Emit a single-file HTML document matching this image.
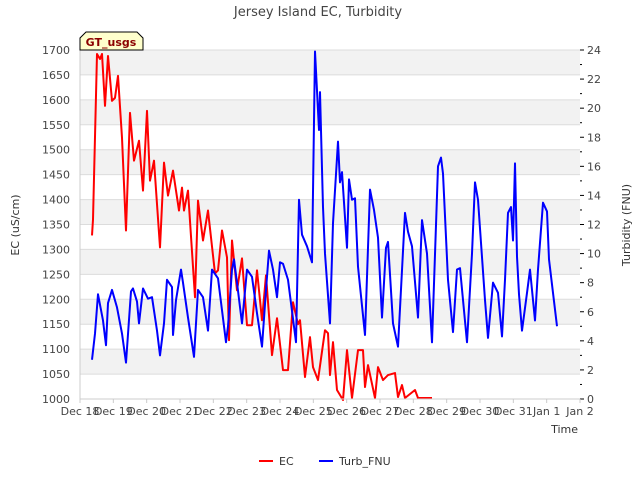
<!DOCTYPE html>
<html><head><meta charset="utf-8"><style>
body{margin:0;background:#fff;font-family:"Liberation Sans",sans-serif}
svg text{font-family:"DejaVu Sans","Liberation Sans",sans-serif}
</style></head><body>
<svg id="c" width="640" height="480" xmlns="http://www.w3.org/2000/svg">
<text x="318" y="16" text-anchor="middle" font-size="13" fill="#444">Jersey Island EC, Turbidity</text>
<g id="bands"></g><g id="grid"></g>
<g id="series"></g>
<g id="axes"></g>
<text x="19" y="225" transform="rotate(-90 19 225)" text-anchor="middle" font-size="11" fill="#333">EC (uS/cm)</text>
<text x="630" y="225" transform="rotate(-90 630 225)" text-anchor="middle" font-size="11" fill="#333">Turbidity (FNU)</text>
<text x="578" y="433" text-anchor="end" font-size="11" fill="#333">Time</text>
<g>
<path d="M80,50 L80,38 L86,32 L137,32 L143,38 L143,50 Z" fill="#ffffcc" stroke="#000" stroke-width="1"/>
<text x="111" y="46" text-anchor="middle" font-size="11" font-weight="bold" fill="#8b0000">GT_usgs</text>
</g>
<g>
<g><line x1="259" y1="461" x2="273" y2="461" stroke="#f00" stroke-width="2"/><text x="279" y="465" font-size="11" fill="#333">EC</text></g>
<g><line x1="319" y1="461" x2="333" y2="461" stroke="#00f" stroke-width="2"/><text x="339" y="465" font-size="11" fill="#333">Turb_FNU</text></g>
</g>
</svg>
<script>
const xLabels=["Dec 18","Dec 19","Dec 20","Dec 21","Dec 22","Dec 23","Dec 24","Dec 25","Dec 26","Dec 27","Dec 28","Dec 29","Dec 30","Dec 31","Jan 1","Jan 2"];
const ecTicks=[1000,1050,1100,1150,1200,1250,1300,1350,1400,1450,1500,1550,1600,1650,1700];
const turbTicks=[0,2,4,6,8,10,12,14,16,18,20,22,24];
const ecT=[0.36,0.39,0.51,0.60,0.66,0.75,0.84,0.96,1.05,1.14,1.26,1.38,1.50,1.62,1.77,1.89,2.01,2.10,2.22,2.40,2.52,2.64,2.79,2.97,3.06,3.12,3.24,3.45,3.54,3.69,3.84,4.05,4.14,4.26,4.41,4.47,4.56,4.71,4.86,5.01,5.16,5.31,5.46,5.58,5.76,5.91,6.09,6.24,6.39,6.54,6.60,6.75,6.90,6.99,7.14,7.35,7.44,7.50,7.59,7.71,7.89,8.01,8.16,8.34,8.49,8.55,8.64,8.85,8.94,9.09,9.24,9.45,9.54,9.66,9.75,10.05,10.14,10.56];
const ecV=[1328,1360,1692,1682,1692,1588,1688,1598,1604,1648,1524,1338,1574,1478,1518,1418,1578,1438,1478,1304,1474,1408,1458,1378,1424,1378,1418,1204,1398,1318,1378,1252,1258,1338,1284,1118,1318,1218,1282,1148,1148,1258,1158,1248,1088,1162,1058,1058,1194,1150,1158,1044,1124,1064,1038,1138,1132,1048,1114,1018,998,1098,1002,1098,1098,1024,1068,1002,1064,1038,1048,1052,1004,1028,1002,1018,1002,1002];
const tbT=[0.36,0.45,0.54,0.69,0.78,0.84,0.96,1.11,1.26,1.38,1.53,1.59,1.71,1.77,1.89,2.04,2.16,2.31,2.40,2.52,2.61,2.76,2.79,2.88,3.03,3.09,3.24,3.42,3.54,3.69,3.84,3.96,4.14,4.26,4.38,4.44,4.56,4.62,4.71,4.86,5.01,5.16,5.31,5.46,5.58,5.67,5.79,5.91,6.00,6.09,6.24,6.48,6.57,6.66,6.81,6.96,7.05,7.17,7.20,7.29,
7.35,7.50,7.59,7.74,7.80,7.86,8.01,8.07,8.16,8.25,8.34,8.55,8.70,8.82,8.94,9.06,9.18,9.24,9.39,9.54,9.75,9.84,9.96,10.14,10.26,10.41,10.56,10.74,10.83,10.89,11.04,11.19,11.31,11.40,11.61,11.76,11.85,11.94,12.15,12.24,12.39,12.54,12.66,12.75,12.84,12.93,12.99,13.05,13.11,13.17,13.26,13.41,13.50,13.65,13.74,13.89,14.01,14.07,14.19,14.31];
const tbV=[2.7,4.5,7.2,5.4,3.7,6.6,7.5,6.3,4.5,2.5,7.4,7.6,6.7,5.2,7.6,6.9,7.0,4.7,3.0,5.2,8.2,7.7,4.4,6.8,8.9,8.0,5.6,2.9,7.5,7.0,4.7,8.9,8.3,6.1,3.9,5.0,8.9,9.6,8.0,5.2,8.9,8.4,5.9,3.6,7.5,10.2,8.9,7.0,9.4,9.3,8.2,3.9,13.7,11.3,10.5,9.4,23.9,18.5,21.1,13.2,
10.0,5.2,12.1,17.7,14.9,15.6,10.4,15.1,13.7,13.8,9.1,4.4,14.4,13.0,11.1,5.6,10.4,10.8,5.2,3.6,12.8,11.5,10.5,5.6,12.3,10.0,3.9,16.0,16.6,15.5,8.2,4.6,8.9,9.0,3.9,10.0,14.9,13.7,6.8,4.2,8.0,7.3,4.3,8.2,12.8,13.2,10.9,16.2,9.8,7.2,4.7,7.3,8.9,5.4,8.9,13.5,12.9,9.6,7.3,5.0];
const L=80,R=580,T=50,B=399,NS="http://www.w3.org/2000/svg";
const xs=t=>L+t*(R-L)/15, ye=v=>B-(v-1000)*(B-T)/700, yt=v=>B-v*(B-T)/24;
function mk(tag,a,p){const e=document.createElementNS(NS,tag);for(const k in a)e.setAttribute(k,a[k]);p.appendChild(e);return e;}
const bands=document.getElementById('bands'),grid=document.getElementById('grid'),axes=document.getElementById('axes'),ser=document.getElementById('series');
for(let i=0;i<ecTicks.length-1;i++){if(i%2==1){const r=mk('rect',{x:L,y:ye(ecTicks[i+1]),width:R-L,height:ye(ecTicks[i])-ye(ecTicks[i+1]),fill:'#f2f2f2'},bands);

}}
ecTicks.forEach(v=>{const y=ye(v);mk('line',{x1:L,x2:R,y1:y,y2:y,stroke:'#dcdcdc'},grid);
const t=mk('text',{x:L-10,y:y+4,'text-anchor':'end','font-size':'11',fill:'#444'},axes);t.textContent=v;

});
turbTicks.forEach(v=>{const y=yt(v);mk('line',{x1:R,x2:R+4,y1:y,y2:y,stroke:'#000'},axes);if(v<24)mk('line',{x1:R,x2:R+2,y1:yt(v+1),y2:yt(v+1),stroke:'#000'},axes);
const t=mk('text',{x:R+7,y:y+4,'font-size':'11',fill:'#444'},axes);t.textContent=v;

});
mk('line',{x1:L,x2:L,y1:T,y2:B,stroke:'#ccc'},axes);mk('line',{x1:L,x2:R,y1:B,y2:B,stroke:'#ccc'},axes);
xLabels.forEach((s,i)=>{const x=xs(i);mk('line',{x1:x,x2:x,y1:B,y2:B+4,stroke:'#ccc'},axes);
const t=mk('text',{x:x,y:B+16,'text-anchor':'middle','font-size':'11',fill:'#444'},axes);t.textContent=s;

});
const pe=mk('polyline',{points:ecT.map((t,i)=>xs(t)+','+ye(ecV[i])).join(' '),fill:'none',stroke:'#f00','stroke-width':2,'stroke-linejoin':'round'},ser);


const pt=mk('polyline',{points:tbT.map((t,i)=>xs(t)+','+yt(tbV[i])).join(' '),fill:'none',stroke:'#00f','stroke-width':2,'stroke-linejoin':'round'},ser);


</script>
</body></html>
